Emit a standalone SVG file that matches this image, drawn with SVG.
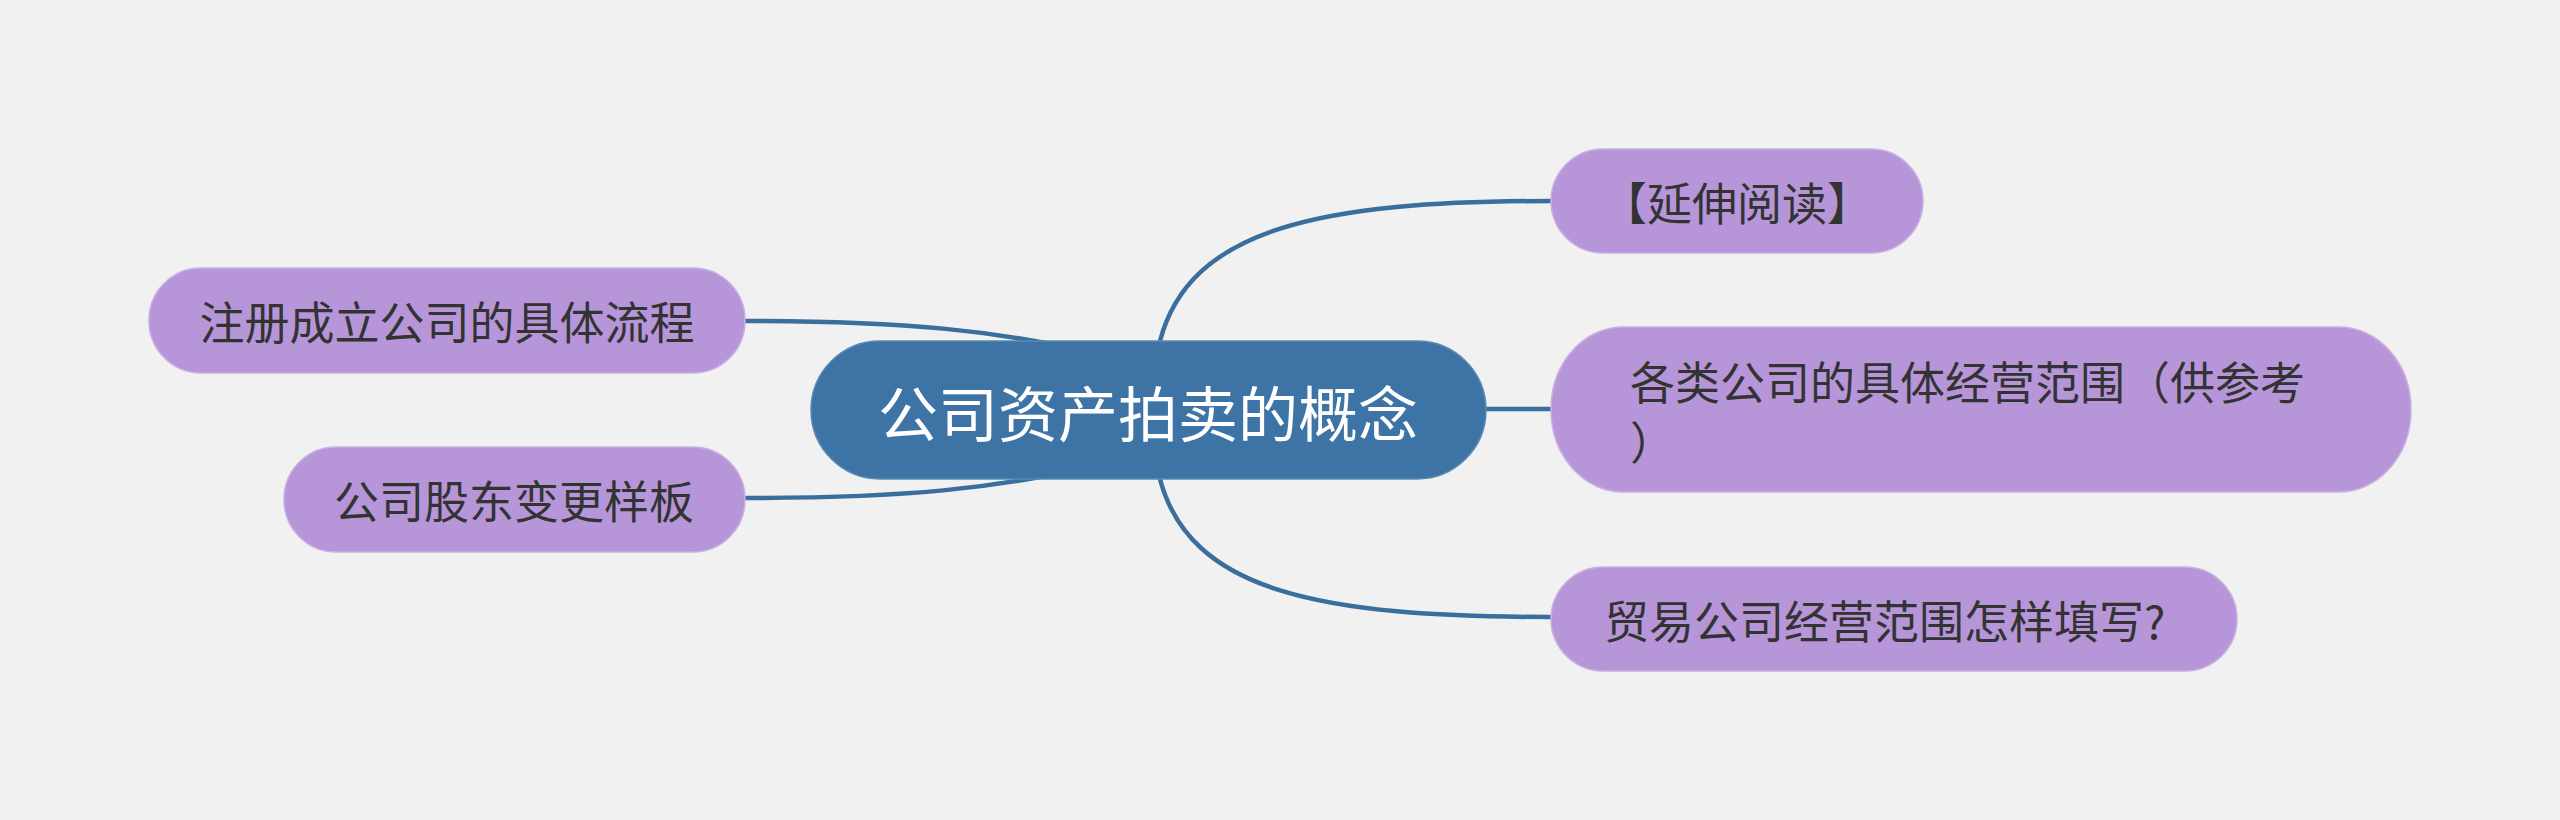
<svg xmlns="http://www.w3.org/2000/svg" width="2560" height="820" viewBox="0 0 2560 820">
  <style>
    .sub rect { fill: #b696d9; stroke: #c9b0e4; stroke-width: 1.5; }
    .sub text { font-family: "Microsoft YaHei", "Noto Sans CJK SC", sans-serif; font-size: 45px; fill: #333333; dominant-baseline: central; }
    .conn path { fill: none; stroke: #3a6e9d; stroke-width: 4.5; stroke-linecap: butt; }
    #root rect { fill: #3d74a5; stroke: #5a89b4; stroke-width: 1.5; }
    #root text { font-family: "Microsoft YaHei", "Noto Sans CJK SC", sans-serif; font-size: 60px; fill: #ffffff; text-anchor: middle; dominant-baseline: central; }
  </style>
  <rect x="0" y="0" width="2560" height="820" fill="#f1f1f1"/>
  <g id="connectors" class="conn">
    <path d="M1160,341 C1190,228 1320,201 1551,201"/>
    <path d="M1480,409 L1551,409"/>
    <path d="M1160,479 C1190,592 1320,617 1551,617"/>
    <path d="M745,321 C900,321 1000,330 1100,355"/>
    <path d="M745,498 C900,498 1000,489 1100,464"/>
  </g>
  <g id="root">
    <rect x="811" y="341" width="675" height="138" rx="69" ry="69"/>
    <text x="1148" y="410">公司资产拍卖的概念</text>
  </g>
  <g id="n1" class="sub">
    <rect x="1551" y="149" width="372" height="104" rx="52" ry="52"/>
    <text x="1737" y="201" text-anchor="middle">【延伸阅读】</text>
  </g>
  <g id="n2" class="sub">
    <rect x="1551" y="327" width="860" height="165" rx="72" ry="82"/>
    <text x="1630" y="380">各类公司的具体经营范围（供参考</text>
    <text x="1630" y="440">）</text>
  </g>
  <g id="n3" class="sub">
    <rect x="1551" y="567" width="686" height="104" rx="52" ry="52"/>
    <text x="1604" y="619">贸易公司经营范围怎样填写?</text>
  </g>
  <g id="n4" class="sub">
    <rect x="149" y="268" width="596" height="105" rx="52" ry="52"/>
    <text x="447" y="320" text-anchor="middle">注册成立公司的具体流程</text>
  </g>
  <g id="n5" class="sub">
    <rect x="284" y="447" width="461" height="105" rx="52" ry="52"/>
    <text x="514" y="499" text-anchor="middle">公司股东变更样板</text>
  </g>
</svg>
